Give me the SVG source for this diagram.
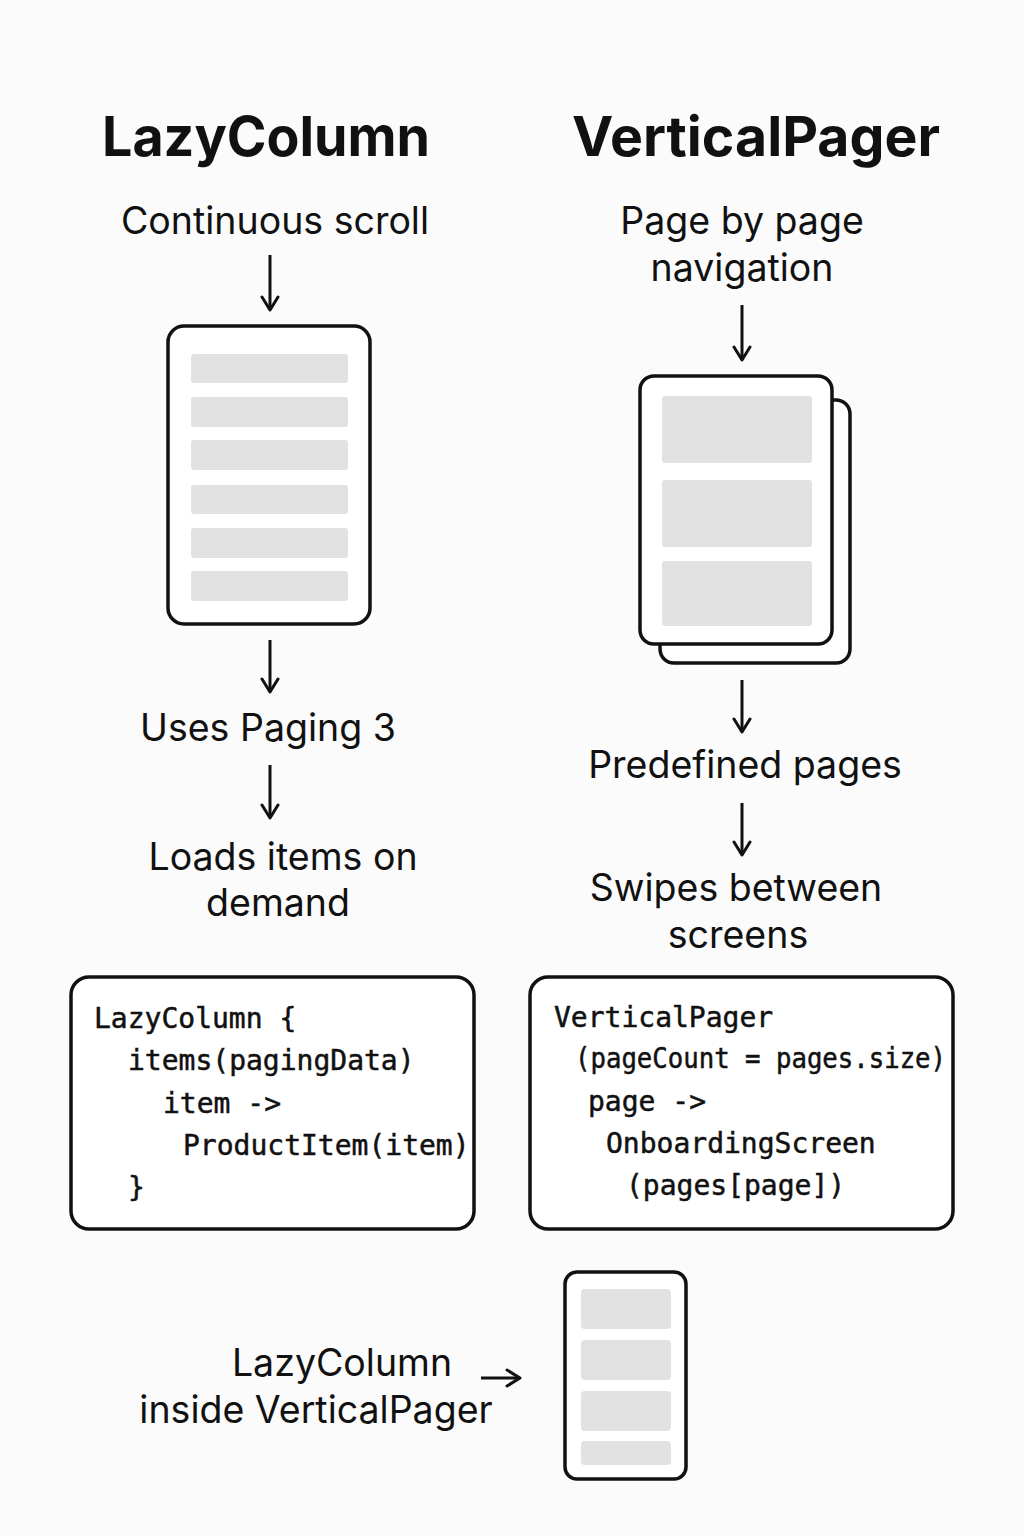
<svg xmlns="http://www.w3.org/2000/svg" width="1024" height="1536" viewBox="0 0 1024 1536">
<defs>
<style>
.title{font-family:Inter,"Liberation Sans",sans-serif;font-weight:700;font-size:55px;fill:#111;text-anchor:middle}
.lbl{font-family:Inter,"Liberation Sans",sans-serif;font-size:37.5px;fill:#111;text-anchor:middle}
.code{font-family:"DejaVu Sans Mono","Liberation Mono",monospace;font-size:28px;fill:#111;stroke:#111;stroke-width:0.5}
.frame{fill:#fff;stroke:#111;stroke-width:3.5}
.item{fill:#e2e2e2}
.conn{stroke:#111;stroke-width:3;fill:none;marker-end:url(#ah)}
</style>
<marker id="ah" viewBox="0 0 20 20" refX="17" refY="10" markerWidth="20" markerHeight="20" markerUnits="userSpaceOnUse" orient="auto">
<path d="M4,2 L17,10 L4,18" fill="none" stroke="#111" stroke-width="3" stroke-linecap="round" stroke-linejoin="round"/>
</marker>
</defs>
<rect width="1024" height="1536" fill="#fbfbfb"/>

<g id="title-lazycolumn"><text class="title" x="266" y="156" textLength="328" lengthAdjust="spacingAndGlyphs">LazyColumn</text></g>
<g id="title-verticalpager"><text class="title" x="756" y="156" textLength="368" lengthAdjust="spacingAndGlyphs">VerticalPager</text></g>

<g id="continuous-scroll"><text class="lbl" x="275" y="234">Continuous scroll</text></g>
<g id="lazy-phone">
<rect class="frame" x="168" y="326" width="202" height="298" rx="16"/>
<rect class="item" x="191" y="354" width="157" height="29" rx="3"/>
<rect class="item" x="191" y="397" width="157" height="30" rx="3"/>
<rect class="item" x="191" y="440" width="157" height="30" rx="3"/>
<rect class="item" x="191" y="485" width="157" height="29" rx="3"/>
<rect class="item" x="191" y="528" width="157" height="30" rx="3"/>
<rect class="item" x="191" y="571" width="157" height="30" rx="3"/>
</g>
<g id="uses-paging"><text class="lbl" x="268" y="741">Uses Paging 3</text></g>
<g id="loads-items"><text class="lbl" x="283" y="870">Loads items on</text><text class="lbl" x="278" y="916">demand</text></g>

<g id="page-by-page"><text class="lbl" x="742" y="234">Page by page</text><text class="lbl" x="742" y="281">navigation</text></g>
<g id="pager-pages">
<rect class="frame" x="660" y="400" width="190" height="263" rx="14"/>
<rect class="frame" x="640" y="376" width="192" height="268" rx="14"/>
<rect class="item" x="662" y="396" width="150" height="67" rx="3"/>
<rect class="item" x="662" y="480" width="150" height="67" rx="3"/>
<rect class="item" x="662" y="561" width="150" height="65" rx="3"/>
</g>
<g id="predefined-pages"><text class="lbl" x="745" y="778">Predefined pages</text></g>
<g id="swipes"><text class="lbl" x="736" y="901">Swipes between</text><text class="lbl" x="738" y="948">screens</text></g>

<g id="code-lazy">
<rect class="frame" x="71" y="977" width="403" height="252" rx="18"/>
<text class="code" x="94" y="1028">LazyColumn {</text>
<text class="code" x="128" y="1070">items(pagingData)</text>
<text class="code" x="163" y="1113">item -&gt;</text>
<text class="code" x="183" y="1155">ProductItem(item)</text>
<text class="code" x="128" y="1197">}</text>
</g>
<g id="code-pager">
<rect class="frame" x="530" y="977" width="423" height="252" rx="18"/>
<text class="code" x="554" y="1027">VerticalPager</text>
<text class="code" x="575" y="1068" textLength="371" lengthAdjust="spacingAndGlyphs">(pageCount = pages.size)</text>
<text class="code" x="588" y="1111">page -&gt;</text>
<text class="code" x="606" y="1153">OnboardingScreen</text>
<text class="code" x="626" y="1195">(pages[page])</text>
</g>

<g id="nested-label"><text class="lbl" x="342" y="1376">LazyColumn</text><text class="lbl" x="316" y="1423">inside VerticalPager</text></g>
<g id="nested-phone">
<rect class="frame" x="565" y="1272" width="121" height="207" rx="12"/>
<rect class="item" x="581" y="1289" width="90" height="40" rx="4"/>
<rect class="item" x="581" y="1340" width="90" height="40" rx="4"/>
<rect class="item" x="581" y="1391" width="90" height="40" rx="4"/>
<rect class="item" x="581" y="1441" width="90" height="24" rx="4"/>
</g>

<g id="connectors">
<line class="conn" x1="270" y1="255" x2="270" y2="310"/>
<line class="conn" x1="270" y1="640" x2="270" y2="692"/>
<line class="conn" x1="270" y1="765" x2="270" y2="818"/>
<line class="conn" x1="742" y1="305" x2="742" y2="360"/>
<line class="conn" x1="742" y1="680" x2="742" y2="732"/>
<line class="conn" x1="742" y1="803" x2="742" y2="855"/>
<line class="conn" x1="481" y1="1378" x2="520" y2="1378"/>
</g>
</svg>
